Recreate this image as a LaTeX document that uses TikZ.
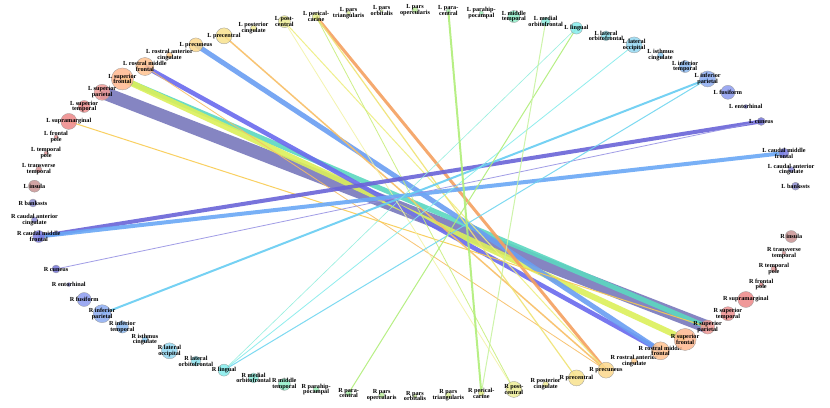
\documentclass[tikz,border=0pt]{standalone}
\usepackage{fontspec}
\setmainfont{Liberation Serif}
\usetikzlibrary{backgrounds}

% region colours
\definecolor{cbank}{HTML}{8C8CD0}
\definecolor{ccaa}{HTML}{9090DC}
\definecolor{ccmf}{HTML}{7C7CE0}
\definecolor{ccun}{HTML}{7474D8}
\definecolor{cent}{HTML}{8C8CEC}
\definecolor{cfus}{HTML}{8C9CF0}
\definecolor{cipar}{HTML}{8CACF2}
\definecolor{citemp}{HTML}{8CBAF2}
\definecolor{cisth}{HTML}{8CCAF2}
\definecolor{clocc}{HTML}{94D8F2}
\definecolor{clorb}{HTML}{8CE2EE}
\definecolor{cling}{HTML}{84ECEC}
\definecolor{cmorb}{HTML}{8CEEDC}
\definecolor{cmtemp}{HTML}{90EEC8}
\definecolor{cphip}{HTML}{9CEEB8}
\definecolor{cpara}{HTML}{AAEEAA}
\definecolor{cpop}{HTML}{BCEE9C}
\definecolor{cpor}{HTML}{CCEE98}
\definecolor{cptr}{HTML}{DCEE98}
\definecolor{cperi}{HTML}{E4EE8C}
\definecolor{cpost}{HTML}{EEEE98}
\definecolor{cpcg}{HTML}{F2EC98}
\definecolor{cprec}{HTML}{F8E28E}
\definecolor{cpcun}{HTML}{FCD88C}
\definecolor{crac}{HTML}{FFCC8C}
\definecolor{crmf}{HTML}{FFC290}
\definecolor{csf}{HTML}{FFB890}
\definecolor{csp}{HTML}{F09A96}
\definecolor{cst}{HTML}{F09090}
\definecolor{csmar}{HTML}{EE8888}
\definecolor{cfp}{HTML}{E89090}
\definecolor{ctp}{HTML}{E09494}
\definecolor{ctt}{HTML}{D89494}
\definecolor{cins}{HTML}{C89494}
% link colours
\definecolor{eslate}{HTML}{7878BC}
\definecolor{eteal}{HTML}{5CD8C0}
\definecolor{eyel}{HTML}{DCF05A}
\definecolor{epurp}{HTML}{6A6AEE}
\definecolor{eblue}{HTML}{6A9EF2}
\definecolor{eorange}{HTML}{F5A060}
\definecolor{elorange}{HTML}{F8BE64}
\definecolor{epale}{HTML}{EEEE80}
\definecolor{eviolet}{HTML}{6A64D8}
\definecolor{esky}{HTML}{6AA8F6}
\definecolor{ecyan}{HTML}{66CCF2}
\definecolor{egreen}{HTML}{B0EE78}

\tikzset{
  roi/.style={circle,draw=black!40,line width=0.3pt,fill opacity=0.85,inner sep=0pt},
  lbl/.style={font=\fontsize{6.2}{5.8}\selectfont\bfseries,align=center,inner sep=0pt},
  link/.style={line cap=butt,draw opacity=0.9},
}

\begin{document}
\begin{tikzpicture}[x=1pt,y=1pt]
  \useasboundingbox (0,0) rectangle (830,407);

  \begin{scope}[shift={(415,204)}]
  % left hemisphere
  \node[roi,minimum size=8,fill=cbank,label={[lbl]center:L bankssts}] (lbank) at (5:382 and 193) {};
  \node[roi,minimum size=6,fill=ccaa,label={[lbl]center:L caudal anterior\\cingulate}] (lcaa) at (10:382 and 193) {};
  \node[roi,minimum size=10,fill=ccmf,label={[lbl]center:L caudal middle\\frontal}] (lcmf) at (15:382 and 193) {};
  \node[roi,minimum size=8,fill=ccun,label={[lbl]center:L cuneus}] (lcun) at (25:382 and 193) {};
  \node[roi,minimum size=4,fill=cent,label={[lbl]center:L entorhinal}] (lent) at (30:382 and 193) {};
  \node[roi,minimum size=14,fill=cfus,label={[lbl]center:L fusiform}] (lfus) at (35:382 and 193) {};
  \node[roi,minimum size=16,fill=cipar,label={[lbl]center:L inferior\\parietal}] (lipar) at (40:382 and 193) {};
  \node[roi,minimum size=12,fill=citemp,label={[lbl]center:L inferior\\temporal}] (litemp) at (45:382 and 193) {};
  \node[roi,minimum size=6,fill=cisth,label={[lbl]center:L isthmus\\cingulate}] (listh) at (50:382 and 193) {};
  \node[roi,minimum size=16,fill=clocc,label={[lbl]center:L lateral\\occipital}] (llocc) at (55:382 and 193) {};
  \node[roi,minimum size=10,fill=clorb,label={[lbl]center:L lateral\\orbitofrontal}] (llorb) at (60:382 and 193) {};
  \node[roi,minimum size=12,fill=cling,label={[lbl]center:L lingual}] (lling) at (65:382 and 193) {};
  \node[roi,minimum size=9,fill=cmorb,label={[lbl]center:L medial\\orbitofrontal}] (lmorb) at (70:382 and 193) {};
  \node[roi,minimum size=12,fill=cmtemp,label={[lbl]center:L middle\\temporal}] (lmtemp) at (75:382 and 193) {};
  \node[roi,minimum size=4,fill=cphip,label={[lbl]center:L parahip-\\pocampal}] (lphip) at (80:382 and 193) {};
  \node[roi,minimum size=4,fill=cpara,label={[lbl]center:L para-\\central}] (lpara) at (85:382 and 193) {};
  \node[roi,minimum size=6,fill=cpop,label={[lbl]center:L pars\\opercularis}] (lpop) at (90:382 and 193) {};
  \node[roi,minimum size=3,fill=cpor,label={[lbl]center:L pars\\orbitalis}] (lpor) at (95:382 and 193) {};
  \node[roi,minimum size=4,fill=cptr,label={[lbl]center:L pars\\triangularis}] (lptr) at (100:382 and 193) {};
  \node[roi,minimum size=8,fill=cperi,label={[lbl]center:L perical-\\carine}] (lperi) at (105:382 and 193) {};
  \node[roi,minimum size=12,fill=cpost,label={[lbl]center:L post-\\central}] (lpost) at (110:382 and 193) {};
  \node[roi,minimum size=6,fill=cpcg,label={[lbl]center:L posterior\\cingulate}] (lpcg) at (115:382 and 193) {};
  \node[roi,minimum size=16,fill=cprec,label={[lbl]center:L precentral}] (lprec) at (120:382 and 193) {};
  \node[roi,minimum size=14,fill=cpcun,label={[lbl]center:L precuneus}] (lpcun) at (125:382 and 193) {};
  \node[roi,minimum size=6,fill=crac,label={[lbl]center:L rostral anterior\\cingulate}] (lrac) at (130:382 and 193) {};
  \node[roi,minimum size=18,fill=crmf,label={[lbl]center:L rostral middle\\frontal}] (lrmf) at (135:382 and 193) {};
  \node[roi,minimum size=22,fill=csf,label={[lbl]center:L superior\\frontal}] (lsf) at (140:382 and 193) {};
  \node[roi,minimum size=16,fill=csp,label={[lbl]center:L superior\\parietal}] (lsp) at (145:382 and 193) {};
  \node[roi,minimum size=12,fill=cst,label={[lbl]center:L superior\\temporal}] (lst) at (150:382 and 193) {};
  \node[roi,minimum size=16,fill=csmar,label={[lbl]center:L supramarginal}] (lsmar) at (155:382 and 193) {};
  \node[roi,minimum size=4,fill=cfp,label={[lbl]center:L frontal\\pole}] (lfp) at (160:382 and 193) {};
  \node[roi,minimum size=4,fill=ctp,label={[lbl]center:L temporal\\pole}] (ltp) at (165:382 and 193) {};
  \node[roi,minimum size=6,fill=ctt,label={[lbl]center:L transverse\\temporal}] (ltt) at (170:382 and 193) {};
  \node[roi,minimum size=12,fill=cins,label={[lbl]center:L insula}] (lins) at (175:382 and 193) {};

  % right hemisphere
  \node[roi,minimum size=8,fill=cbank,label={[lbl]center:R bankssts}] (rbank) at (180:382 and 193) {};
  \node[roi,minimum size=6,fill=ccaa,label={[lbl]center:R caudal anterior\\cingulate}] (rcaa) at (185:382 and 193) {};
  \node[roi,minimum size=12,fill=ccmf,label={[lbl]center:R caudal middle\\frontal}] (rcmf) at (190:382 and 193) {};
  \node[roi,minimum size=8,fill=ccun,label={[lbl]center:R cuneus}] (rcun) at (200:382 and 193) {};
  \node[roi,minimum size=4,fill=cent,label={[lbl]center:R entorhinal}] (rent) at (205:382 and 193) {};
  \node[roi,minimum size=14,fill=cfus,label={[lbl]center:R fusiform}] (rfus) at (210:382 and 193) {};
  \node[roi,minimum size=18,fill=cipar,label={[lbl]center:R inferior\\parietal}] (ripar) at (215:382 and 193) {};
  \node[roi,minimum size=12,fill=citemp,label={[lbl]center:R inferior\\temporal}] (ritemp) at (220:382 and 193) {};
  \node[roi,minimum size=6,fill=cisth,label={[lbl]center:R isthmus\\cingulate}] (risth) at (225:382 and 193) {};
  \node[roi,minimum size=16,fill=clocc,label={[lbl]center:R lateral\\occipital}] (rlocc) at (230:382 and 193) {};
  \node[roi,minimum size=10,fill=clorb,label={[lbl]center:R lateral\\orbitofrontal}] (rlorb) at (235:382 and 193) {};
  \node[roi,minimum size=12,fill=cling,label={[lbl]center:R lingual}] (rling) at (240:382 and 193) {};
  \node[roi,minimum size=10,fill=cmorb,label={[lbl]center:R medial\\orbitofrontal}] (rmorb) at (245:382 and 193) {};
  \node[roi,minimum size=12,fill=cmtemp,label={[lbl]center:R middle\\temporal}] (rmtemp) at (250:382 and 193) {};
  \node[roi,minimum size=6,fill=cphip,label={[lbl]center:R parahip-\\pocampal}] (rphip) at (255:382 and 193) {};
  \node[roi,minimum size=6,fill=cpara,label={[lbl]center:R para-\\central}] (rpara) at (260:382 and 193) {};
  \node[roi,minimum size=6,fill=cpop,label={[lbl]center:R pars\\opercularis}] (rpop) at (265:382 and 193) {};
  \node[roi,minimum size=4,fill=cpor,label={[lbl]center:R pars\\orbitalis}] (rpor) at (270:382 and 193) {};
  \node[roi,minimum size=6,fill=cptr,label={[lbl]center:R pars\\triangularis}] (rptr) at (275:382 and 193) {};
  \node[roi,minimum size=6,fill=cperi,label={[lbl]center:R perical-\\carine}] (rperi) at (280:382 and 193) {};
  \node[roi,minimum size=16,fill=cpost,label={[lbl]center:R post-\\central}] (rpost) at (285:382 and 193) {};
  \node[roi,minimum size=6,fill=cpcg,label={[lbl]center:R posterior\\cingulate}] (rpcg) at (290:382 and 193) {};
  \node[roi,minimum size=16,fill=cprec,label={[lbl]center:R precentral}] (rprec) at (295:382 and 193) {};
  \node[roi,minimum size=16,fill=cpcun,label={[lbl]center:R precuneus}] (rpcun) at (300:382 and 193) {};
  \node[roi,minimum size=6,fill=crac,label={[lbl]center:R rostral anterior\\cingulate}] (rrac) at (305:382 and 193) {};
  \node[roi,minimum size=18,fill=crmf,label={[lbl]center:R rostral middle\\frontal}] (rrmf) at (310:382 and 193) {};
  \node[roi,minimum size=22,fill=csf,label={[lbl]center:R superior\\frontal}] (rsf) at (315:382 and 193) {};
  \node[roi,minimum size=14,fill=csp,label={[lbl]center:R superior\\parietal}] (rsp) at (320:382 and 193) {};
  \node[roi,minimum size=14,fill=cst,label={[lbl]center:R superior\\temporal}] (rst) at (325:382 and 193) {};
  \node[roi,minimum size=16,fill=csmar,label={[lbl]center:R supramarginal}] (rsmar) at (330:382 and 193) {};
  \node[roi,minimum size=4,fill=cfp,label={[lbl]center:R frontal\\pole}] (rfp) at (335:382 and 193) {};
  \node[roi,minimum size=6,fill=ctp,label={[lbl]center:R temporal\\pole}] (rtp) at (340:382 and 193) {};
  \node[roi,minimum size=4,fill=ctt,label={[lbl]center:R transverse\\temporal}] (rtt) at (345:382 and 193) {};
  \node[roi,minimum size=12,fill=cins,label={[lbl]center:R insula}] (rins) at (350:382 and 193) {};
  \end{scope}

  % links between hemispheres
  \begin{pgfonlayer}{background}
  \fill[white] (0,0) rectangle (830,407);
  \draw[link,eslate,line width=13] (lsp.center) -- (rsp.center);
  \draw[link,eteal,line width=5] (lsf.center) -- (rsp.center);
  \draw[link,eyel,line width=6] (lsf.center) -- (rsf.center);
  \draw[link,epurp,line width=4.5] (lrmf.center) -- (rrmf.center);
  \draw[link,eblue,line width=5] (lpcun.center) -- (rrmf.center);
  \draw[link,eorange,line width=3] (lperi.center) -- (rpcun.center);
  \draw[link,elorange,line width=1.5] (lprec.center) -- (rpcun.center);
  \draw[link,elorange,line width=0.8] (lrmf.center) -- (rpcun.center);
  \draw[link,elorange!80!yellow,line width=1] (lsmar.center) -- (rsp.center);
  \draw[link,epale,line width=1] (lpost.center) -- (rpcun.center);
  \draw[link,epale!70,line width=0.8] (lpost.center) -- (rpost.center);
  \draw[link,epale!90!orange,line width=1.2] (lperi.center) -- (rprec.center);
  \draw[link,egreen!60!epale,line width=0.8] (lperi.center) -- (rpost.center);
  \draw[link,eviolet,line width=4] (lcun.center) -- (rcmf.center);
  \draw[link,esky,line width=4] (lcmf.center) -- (rcmf.center);
  \draw[link,eviolet!70,line width=0.8] (lcun.center) -- (rcun.center);
  \draw[link,ecyan,line width=2] (lipar.center) -- (ripar.center);
  \draw[link,ecyan!70!cling,line width=1] (lipar.center) -- (rling.center);
  \draw[link,cling,line width=0.8] (llocc.center) -- (rling.center);
  \draw[link,cmorb,line width=0.6] (lling.center) -- (rling.center);
  \draw[link,egreen,line width=1] (lling.center) -- (rpara.center);
  \draw[link,egreen!70,line width=1] (lmorb.center) -- (rperi.center);
  \draw[link,egreen,line width=2] (lpara.center) -- (rperi.center);
  \end{pgfonlayer}
\end{tikzpicture}
\end{document}
